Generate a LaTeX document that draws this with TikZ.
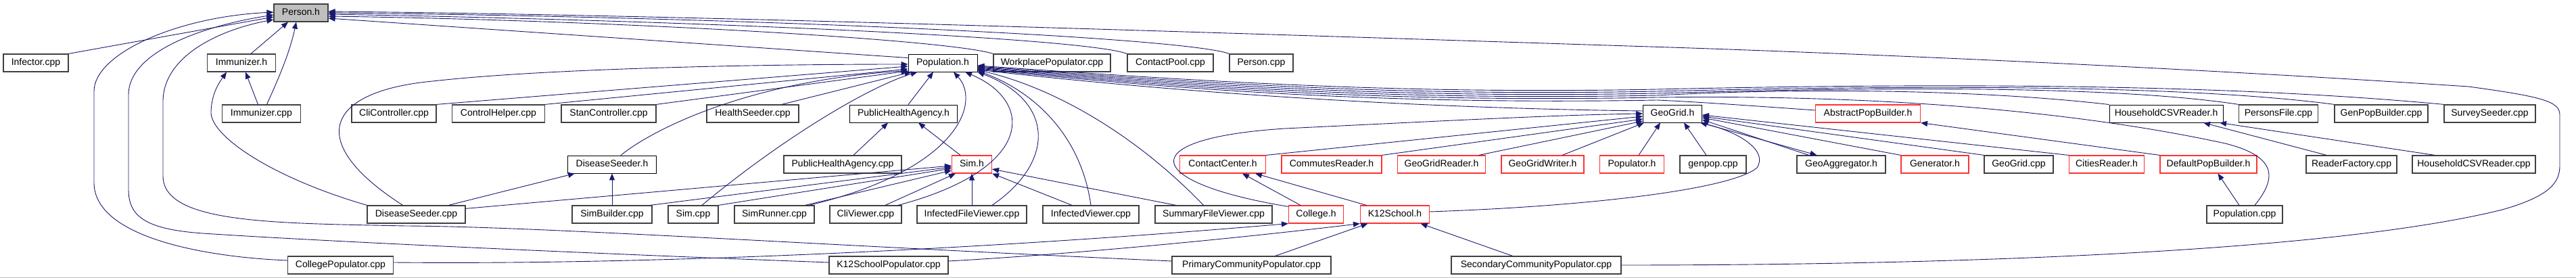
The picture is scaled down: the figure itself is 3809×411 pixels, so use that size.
\documentclass[tikz,border=0pt]{standalone}
\usepackage{fontspec}
\setmainfont{Liberation Sans}
\usepackage{tikz}
\usetikzlibrary{arrows.meta}

\definecolor{edgeblue}{RGB}{25,25,112}
\definecolor{boxgrey}{RGB}{64,64,64}
\definecolor{truncred}{RGB}{255,50,50}
\definecolor{focusfill}{RGB}{191,191,191}

\tikzset{
  box/.style={draw=boxgrey, line width=1.2pt, fill=white, minimum height=26pt, inner sep=0pt,
    text height=10pt, text depth=3pt, font=\fontsize{14}{16}\selectfont},
  hdrbox/.style={box, draw=black, line width=0.9pt},
  truncbox/.style={box, draw=truncred, line width=1.1pt},
  focusbox/.style={box, fill=focusfill},
  incl/.style={draw=edgeblue, line width=0.9pt, -{Triangle[length=10pt,width=8pt]}}
}

\begin{document}
\begin{tikzpicture}[x=1pt, y=-1pt]
    \useasboundingbox (0,0) rectangle (3809,411);

    % Focus file
    \node[focusbox, minimum width=80pt] (personh) at (445,19) {Person.h};

    % Second row
    \node[box, minimum width=96pt] (infector) at (53,93) {Infector.cpp};
    \node[box, minimum width=101pt] (immh) at (357,93) {Immunizer.h};
    \node[hdrbox, minimum width=102pt] (poph) at (1394,93) {Population.h};
    \node[box, minimum width=173pt] (workpop) at (1555.5,93) {WorkplacePopulator.cpp};
    \node[box, minimum width=127pt] (cpool) at (1730.5,93) {ContactPool.cpp};
    \node[box, minimum width=94pt] (personcpp) at (1865,93) {Person.cpp};

    % Third row
    \node[box, minimum width=116pt] (immcpp) at (386.5,168) {Immunizer.cpp};
    \node[box, minimum width=125pt] (clictrl) at (582.5,168) {CliController.cpp};
    \node[box, minimum width=137pt] (ctrlhelp) at (737,168) {ControlHelper.cpp};
    \node[box, minimum width=140pt] (stanctrl) at (900,168) {StanController.cpp};
    \node[box, minimum width=136pt] (healthseed) at (1113,168) {HealthSeeder.cpp};
    \node[hdrbox, minimum width=159pt] (phah) at (1336,168) {PublicHealthAgency.h};
    \node[hdrbox, minimum width=87pt] (geogridh) at (2473,168) {GeoGrid.h};
    \node[truncbox, minimum width=155pt] (apbh) at (2762,168) {AbstractPopBuilder.h};
    \node[hdrbox, minimum width=168pt] (hcsvh) at (3203,168) {HouseholdCSVReader.h};
    \node[box, minimum width=117pt] (persfile) at (3369,168) {PersonsFile.cpp};
    \node[box, minimum width=138pt] (genpopb) at (3521,168) {GenPopBuilder.cpp};
    \node[box, minimum width=135pt] (survseed) at (3681.5,168) {SurveySeeder.cpp};

    % Fourth row
    \node[hdrbox, minimum width=131pt] (dsh) at (905,243) {DiseaseSeeder.h};
    \node[box, minimum width=174pt] (phacpp) at (1246,243) {PublicHealthAgency.cpp};
    \node[truncbox, minimum width=59pt] (simh) at (1437,243) {Sim.h};
    \node[truncbox, minimum width=127pt] (cch) at (1808,243) {ContactCenter.h};
    \node[truncbox, minimum width=148pt] (commr) at (1969,243) {CommutesReader.h};
    \node[truncbox, minimum width=130pt] (ggreader) at (2131.5,243) {GeoGridReader.h};
    \node[truncbox, minimum width=122pt] (ggwriter) at (2281,243) {GeoGridWriter.h};
    \node[truncbox, minimum width=95pt] (populh) at (2413,243) {Populator.h};
    \node[box, minimum width=98pt] (genpop) at (2533,243) {genpop.cpp};
    \node[box, minimum width=131pt] (geoaggr) at (2722.5,243) {GeoAggregator.h};
    \node[truncbox, minimum width=100pt] (generh) at (2861,243) {Generator.h};
    \node[box, minimum width=102pt] (geogridcpp) at (2985,243) {GeoGrid.cpp};
    \node[truncbox, minimum width=111pt] (citiesr) at (3115,243) {CitiesReader.h};
    \node[truncbox, minimum width=143pt] (dpbh) at (3265.5,243) {DefaultPopBuilder.h};
    \node[box, minimum width=134pt] (readfact) at (3477,243) {ReaderFactory.cpp};
    \node[box, minimum width=182pt] (hcsvcpp) at (3658,243) {HouseholdCSVReader.cpp};

    % Fifth row
    \node[box, minimum width=145pt] (dscpp) at (615.5,317) {DiseaseSeeder.cpp};
    \node[box, minimum width=118pt] (simbuild) at (905,317) {SimBuilder.cpp};
    \node[box, minimum width=74pt] (simcpp) at (1025,317) {Sim.cpp};
    \node[box, minimum width=118pt] (simrun) at (1145,317) {SimRunner.cpp};
    \node[box, minimum width=106pt] (cliview) at (1280,317) {CliViewer.cpp};
    \node[box, minimum width=162pt] (ifview) at (1437,317) {InfectedFileViewer.cpp};
    \node[box, minimum width=142pt] (iview) at (1613,317) {InfectedViewer.cpp};
    \node[box, minimum width=173pt] (sfview) at (1794.5,317) {SummaryFileViewer.cpp};
    \node[truncbox, minimum width=81pt] (collegeh) at (1946,317) {College.h};
    \node[truncbox, minimum width=102pt] (k12h) at (2062.5,317) {K12School.h};
    \node[box, minimum width=112pt] (popcpp) at (3319,317) {Population.cpp};

    % Bottom row
    \node[box, minimum width=156pt] (colpop) at (503.5,392) {CollegePopulator.cpp};
    \node[box, minimum width=176pt] (k12pop) at (1314,392) {K12SchoolPopulator.cpp};
    \node[box, minimum width=235pt] (primpop) at (1850.5,392) {PrimaryCommunityPopulator.cpp};
    \node[box, minimum width=251pt] (secpop) at (2271.5,392) {SecondaryCommunityPopulator.cpp};

    % Includes of Person.h, left side
    \draw[incl] ([yshift=7pt]colpop.west) .. controls (300,380) and (139,350) .. (139,270) -- (139,135)
        .. controls (139,80) and (260,25) .. ([yshift=1pt]personh.west);
    \draw[incl] ([yshift=4pt]k12pop.west) .. controls (800,372) and (450,355) .. (300,345)
        .. controls (215,339) and (190,320) .. (190,280) -- (190,140)
        .. controls (190,80) and (290,40) .. ([yshift=-3pt]personh.west);
    \draw[incl] ([yshift=6pt]primpop.west) .. controls (1200,362) and (800,335) .. (600,334)
        .. controls (400,330) and (241,330) .. (241,260) -- (241,150)
        .. controls (241,85) and (320,45) .. ([yshift=-10pt]personh.west);
    \draw[incl] (infector.north east) -- ([yshift=-6pt]personh.west);
    \draw[incl] ([xshift=14pt]immh.north) -- ([xshift=-19pt]personh.south);
    \draw[incl] ([xshift=8pt]immcpp.north) .. controls (410,120) and (428,80) .. ([xshift=-7pt]personh.south);
    \draw[incl] ([xshift=-5pt]immcpp.north) -- ([xshift=6pt]immh.south);
    \draw[incl] (dscpp.north west) .. controls (400,262) and (310,200) .. (312,165)
        .. controls (313,140) and (322,125) .. ([xshift=-22pt]immh.south);

    % Includes of Person.h, right side
    \draw[incl] ([yshift=-6pt]poph.north west) -- ([yshift=-8pt]personh.east);
    \draw[incl] (workpop.north west) .. controls (1400,58) and (900,30) .. ([yshift=-5pt]personh.east);
    \draw[incl] (cpool.north west) .. controls (1600,55) and (1000,30) .. ([yshift=-2pt]personh.east);
    \draw[incl] (personcpp.north west) .. controls (1750,55) and (1100,25) .. (personh.east);
    \draw[incl] (secpop.east) .. controls (2900,392) and (3450,372) .. (3700,310)
        .. controls (3770,290) and (3785,270) .. (3785,245) -- (3785,170)
        .. controls (3785,150) and (3760,143) .. (3650,128)
        .. controls (3300,105) and (2900,85) .. (2500,71)
        .. controls (1700,45) and (1000,22) .. ([yshift=2pt]personh.east);

    % Includes of Population.h, left and below
    \draw[incl] ([xshift=-20pt]dscpp.north) .. controls (450,210) and (480,135) .. (640,120)
        .. controls (800,102) and (1100,95) .. ([yshift=-2pt]poph.west);
    \draw[incl] (clictrl.north east) -- ([yshift=-5pt]poph.west);
    \draw[incl] (ctrlhelp.north east) -- ([yshift=-9pt]poph.west);
    \draw[incl] (stanctrl.north east) -- ([yshift=-12pt]poph.west);
    \draw[incl] ([xshift=13pt]dsh.north) .. controls (960,195) and (1100,120) .. ([yshift=2pt]poph.south west);
    \draw[incl] ([xshift=43pt]healthseed.north) -- ([xshift=5pt]poph.south west);
    \draw[incl] ([xshift=13pt]simcpp.north) .. controls (1150,210) and (1280,130) .. ([xshift=14pt]poph.south west);
    \draw[incl] ([xshift=7pt]phah.north) -- ([xshift=-14pt]poph.south);
    \draw[incl] ([xshift=-8pt]simrun.north east) .. controls (1420,250) and (1450,150) .. ([xshift=16pt]poph.south);
    \draw[incl] ([xshift=48pt]cliview.north) .. controls (1530,250) and (1530,150) .. ([xshift=33pt]poph.south);
    \draw[incl] ([xshift=30pt]ifview.north) .. controls (1560,240) and (1560,150) .. (poph.south east);
    \draw[incl] (iview.north) .. controls (1600,210) and (1540,140) .. ([yshift=2pt]poph.south east);
    \draw[incl] ([xshift=-15pt]sfview.north) .. controls (1680,200) and (1560,130) .. ([yshift=3pt]poph.south east);

    % Includes of Population.h, right side
    \draw[incl] ([yshift=4pt]geogridh.west) .. controls (2100,160) and (1750,138) .. ([yshift=-10pt]poph.east);
    \draw[incl] ([yshift=5pt]apbh.west) .. controls (2600,157) and (2500,150) .. (2450,148)
        .. controls (2050,155) and (1750,133) .. ([yshift=-9pt]poph.east);
    \draw[incl] (hcsvh.north west) .. controls (2950,135) and (2700,128) .. (2450,141)
        .. controls (2050,149) and (1750,127) .. ([yshift=-7pt]poph.east);
    \draw[incl] (persfile.north west) .. controls (3150,130) and (2850,126) .. (2450,138)
        .. controls (2050,146) and (1750,124) .. ([yshift=-6pt]poph.east);
    \draw[incl] (genpopb.north west) .. controls (3250,128) and (2900,124) .. (2450,135)
        .. controls (2050,143) and (1750,121) .. ([yshift=-5pt]poph.east);
    \draw[incl] (survseed.north west) .. controls (3300,125) and (2900,122) .. (2450,132)
        .. controls (2050,140) and (1750,118) .. ([yshift=-4pt]poph.east);
    \draw[incl] ([xshift=15pt]popcpp.north) .. controls (3365,265) and (3370,232) .. (3290,212)
        .. controls (3050,160) and (2750,140) .. (2450,144)
        .. controls (2050,152) and (1750,130) .. ([yshift=-8pt]poph.east);

    % Sim.h, PublicHealthAgency.h, DiseaseSeeder.h
    \draw[incl] ([yshift=-5pt]dscpp.north east) -- ([yshift=-2pt]simh.west);
    \draw[incl] ([xshift=-3pt]simbuild.north east) -- ([yshift=-4pt]simh.west);
    \draw[incl] (simcpp.north east) -- ([yshift=-6pt]simh.west);
    \draw[incl] ([xshift=-14pt]simrun.north east) -- ([yshift=-9pt]simh.west);
    \draw[incl] ([xshift=29pt]cliview.north) -- ([xshift=6pt]simh.south west);
    \draw[incl] (ifview.north) -- (simh.south);
    \draw[incl] ([xshift=-28pt]iview.north) -- (simh.south east);
    \draw[incl] ([xshift=-56pt]sfview.north) -- ([yshift=-7pt]simh.east);
    \draw[incl] ([xshift=-17pt]simh.north) -- ([xshift=22pt]phah.south);
    \draw[incl] ([xshift=16pt]phacpp.north) -- ([xshift=-23pt]phah.south);
    \draw[incl] ([xshift=48pt]dscpp.north) -- ([xshift=-55pt]dsh.south);
    \draw[incl] (simbuild.north) -- (dsh.south);

    % GeoGrid.h and its includers
    \draw[incl] (cch.north east) -- ([yshift=-4pt]geogridh.west);
    \draw[incl] ([yshift=-2pt]collegeh.north west) .. controls (1690,270) and (1670,205) .. (1900,190)
        .. controls (2150,178) and (2300,170) .. (geogridh.west);
    \draw[incl] ([yshift=4pt]k12h.east) .. controls (2350,305) and (2560,280) .. (2598,248)
        .. controls (2615,222) and (2570,195) .. ([xshift=-3pt]geogridh.south east);
    \draw[incl] (commr.north east) -- ([yshift=-8pt]geogridh.west);
    \draw[incl] ([xshift=55pt]ggreader.north) -- ([yshift=-11pt]geogridh.west);
    \draw[incl] ([xshift=29pt]ggwriter.north) -- ([xshift=2pt]geogridh.south west);
    \draw[incl] ([xshift=10pt]populh.north) -- ([xshift=-18pt]geogridh.south);
    \draw[incl] ([xshift=-10pt]genpop.north) -- ([xshift=17pt]geogridh.south);
    \draw[incl] ([xshift=-48pt]geoaggr.north) -- ([yshift=-9pt]geogridh.east);
    \draw[incl] ([xshift=-2pt]geogridh.south east) -- ([xshift=-36pt]geoaggr.north);
    \draw[incl] (generh.north west) -- ([yshift=-6pt]geogridh.east);
    \draw[incl] (geogridcpp.north west) -- ([yshift=-4pt]geogridh.east);
    \draw[incl] (citiesr.north west) -- ([yshift=-2pt]geogridh.east);

    % ContactCenter.h
    \draw[incl] ([xshift=-23pt]collegeh.north) -- ([xshift=29pt]cch.south);
    \draw[incl] ([xshift=-42pt]k12h.north) -- ([xshift=48pt]cch.south);

    % Builders and readers
    \draw[incl] (dpbh.north west) -- (apbh.south east);
    \draw[incl] ([xshift=-37pt]readfact.north) -- ([xshift=55pt]hcsvh.south);
    \draw[incl] ([xshift=-58pt]hcsvcpp.north) -- ([xshift=79pt]hcsvh.south);
    \draw[incl] ([xshift=-8pt]popcpp.north) -- ([xshift=14pt]dpbh.south);

    % Populators
    \draw[incl] ([yshift=4pt]colpop.east) .. controls (1000,392) and (1500,365) .. (collegeh.south west);
    \draw[incl] ([yshift=6pt]k12pop.east) .. controls (1600,375) and (1850,350) .. (k12h.south west);
    \draw[incl] ([xshift=35pt]primpop.north) -- ([xshift=-40pt]k12h.south);
    \draw[incl] ([xshift=-35pt]secpop.north) -- ([xshift=38pt]k12h.south);

    % bottom rule
    \draw[gray!50, line width=1pt] (0,410) -- (3809,410);
\end{tikzpicture}
\end{document}
